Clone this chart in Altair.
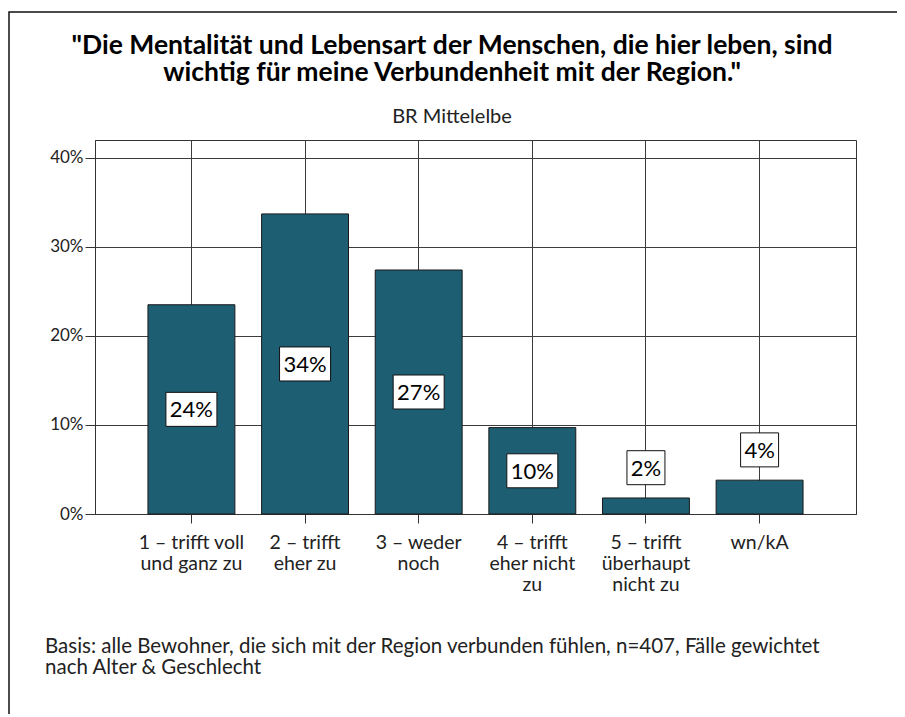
import altair as alt
import pandas as pd

# ---- data ----
categories = [
    "1 – trifft voll|und ganz zu",
    "2 – trifft|eher zu",
    "3 – weder|noch",
    "4 – trifft|eher nicht|zu",
    "5 – trifft|überhaupt|nicht zu",
    "wn/kA",
]
values = [23.5, 33.7, 27.4, 9.7, 1.8, 3.8]
labels = ["24%", "34%", "27%", "10%", "2%", "4%"]
y_ticks = [0, 10, 20, 30, 40]
title_lines = [
    "\"Die Mentalität und Lebensart der Menschen, die hier leben, sind",
    "wichtig für meine Verbundenheit mit der Region.\"",
]
subtitle = "BR Mittelelbe"
footnote = [
    "Basis: alle Bewohner, die sich mit der Region verbunden fühlen, n=407, Fälle gewichtet",
    "nach Alter & Geschlecht",
]

df = pd.DataFrame({"cat": categories, "value": values, "label": labels})
one = pd.DataFrame({"k": [0]})

FONT = "Lato"
W, H = 761, 374
BAR = "#1d5e73"
LINE = "#333333"
GRID = "#3c3c3c"

x_enc = alt.X(
    "cat:N",
    sort=categories,
    title=None,
    scale=alt.Scale(paddingInner=0.235, paddingOuter=0.466),
    axis=alt.Axis(
        labelExpr="split(datum.label, '|')",
        labelAngle=0,
        grid=True,
        gridColor=GRID,
        gridOpacity=1,
        domainColor=LINE,
        tickColor=LINE,
        bandPosition=0.5,
        tickSize=9,
        labelPadding=10,
        labelFontSize=19.5,
        labelLineHeight=21,
        labelBaseline="top",
        labelFont=FONT,
        labelColor="#222222",
    ),
)

y_scale = alt.Scale(domain=[0, 42], nice=False)

bars = alt.Chart(df).mark_bar(
    color=BAR, stroke="#1a1a1a", strokeWidth=1
).encode(
    x=x_enc,
    y=alt.Y(
        "value:Q",
        scale=y_scale,
        title=None,
        axis=alt.Axis(
            values=y_ticks,
            labelExpr="datum.value + '%'",
            tickSize=10,
            labelPadding=2,
            grid=True,
            gridColor=GRID,
            gridOpacity=1,
            domainColor=LINE,
            tickColor=LINE,
            labelFontSize=17,
            labelFont=FONT,
            labelColor="#222222",
        ),
    ),
)

lab_base = alt.Chart(df).transform_calculate(
    ypos="datum.value < 5 ? datum.value + 3.4 : datum.value / 2",
    boxw="13 * length(datum.label) + 12",
).transform_calculate(
    box="'M' + (-datum.boxw / 2) + ',-17H' + (datum.boxw / 2) + 'V17H' + (-datum.boxw / 2) + 'Z'"
)

boxes = lab_base.mark_point(
    filled=True, fill="white", stroke="#111111", strokeWidth=1,
    size=4, opacity=1, fillOpacity=1, strokeOpacity=1,
).encode(
    x=alt.X("cat:N", sort=categories),
    y=alt.Y("ypos:Q", scale=y_scale),
    shape=alt.Shape("box:N", scale=None),
)

texts = lab_base.mark_text(
    font=FONT, fontSize=22, color="black", baseline="middle", dy=1
).encode(
    x=alt.X("cat:N", sort=categories),
    y=alt.Y("ypos:Q", scale=y_scale),
    text="label:N",
)

title_mark = alt.Chart(one).mark_text(
    font=FONT, fontSize=26.5, fontWeight="bold", color="black",
    align="center", baseline="middle", lineHeight=27,
).encode(
    x=alt.value(357), y=alt.value(-94), text=alt.value(title_lines)
)

subtitle_mark = alt.Chart(one).mark_text(
    font=FONT, fontSize=20, color="#222222", align="center", baseline="middle",
).encode(
    x=alt.value(357), y=alt.value(-23), text=alt.value(subtitle)
)

note = alt.Chart(one).mark_text(
    font=FONT, fontSize=20.5, color="#222222", align="left",
    baseline="middle", lineHeight=21,
).encode(
    x=alt.value(-50), y=alt.value(507), text=alt.value(footnote)
)

frame = alt.Chart(one).mark_rect(
    fillOpacity=0, stroke="#111111", strokeWidth=1.5
).encode(
    x=alt.value(-86), x2=alt.value(900), y=alt.value(-128), y2=alt.value(700)
)

chart = alt.layer(
    frame, bars, boxes, texts, title_mark, subtitle_mark, note
).properties(
    width=W,
    height=H,
    autosize=alt.AutoSizeParams(type="none"),
    padding={"left": 87, "top": 132, "right": 41, "bottom": 200},
    background="white",
).configure_view(
    stroke=LINE, strokeWidth=1
)

chart.save("out.html", embed_options={"renderer": "svg", "actions": False})
